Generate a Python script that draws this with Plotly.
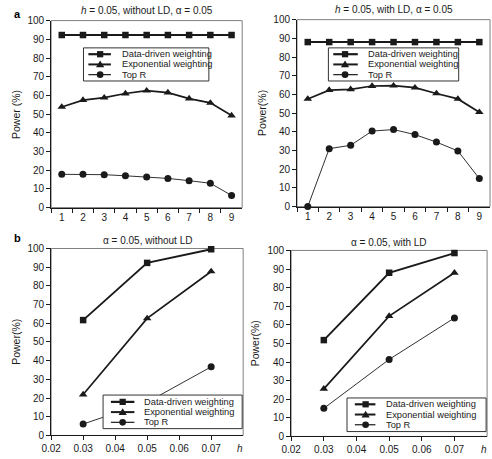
import plotly.graph_objects as go

# ---------------- data ----------------
positions = ["1", "2", "3", "4", "5", "6", "7", "8", "9"]

a_noLD_dd = [92.3, 92.3, 92.3, 92.3, 92.3, 92.3, 92.3, 92.3, 92.3]
a_noLD_exp = [53.8, 57.5, 58.8, 61.0, 62.5, 61.5, 58.3, 56.0, 49.2]
a_noLD_topr = [17.8, 17.8, 17.6, 17.0, 16.4, 15.6, 14.4, 13.0, 6.5]

a_LD_dd = [88.0, 88.0, 88.0, 88.0, 88.0, 88.0, 88.0, 88.0, 88.0]
a_LD_exp = [57.6, 62.3, 62.7, 64.5, 64.7, 63.6, 60.5, 57.6, 50.5]
a_LD_topr = [0.0, 31.0, 32.8, 40.4, 41.2, 38.5, 34.5, 29.8, 15.0]

h_values = [0.03, 0.05, 0.07]
b_noLD_dd = [61.7, 92.3, 99.6]
b_noLD_exp = [21.9, 62.6, 87.7]
b_noLD_topr = [6.1, 17.8, 36.7]
b_LD_dd = [51.8, 88.0, 98.6]
b_LD_exp = [25.6, 64.7, 88.0]
b_LD_topr = [15.1, 41.4, 63.7]

h_ticks = [0.02, 0.03, 0.04, 0.05, 0.06, 0.07]
power_ticks = [0, 10, 20, 30, 40, 50, 60, 70, 80, 90, 100]

series_names = ["Data-driven weighting", "Exponential weighting", "Top R"]

panel_titles = [
    "<i>h</i> = 0.05, without LD, α = 0.05",
    "<i>h</i> = 0.05, with LD, α = 0.05",
    "α = 0.05, without LD",
    "α = 0.05, with LD",
]
ytitles = ["Power (%)", "Power(%)", "Power(%)", "Power(%)"]

# ---------------- styles ----------------
W, H = 492, 459
FONT = "Liberation Sans, Arial, sans-serif"
INK = "#1a1a1a"
styles = [
    dict(symbol="square", size=6.5, width=1.9),
    dict(symbol="triangle-up", size=7.5, width=1.7),
    dict(symbol="circle", size=7, width=0.9),
]

# plot areas in pixels (left, top, width, height)
panels = [
    dict(x0=42, y0=15, w=195, h=192),
    dict(x0=293, y0=14, w=197, h=192),
    dict(x0=42, y0=249, w=196, h=192),
    dict(x0=287, y0=251, w=200, h=191),
]
# legend layout relative to plot area (pixels)
legends = [
    dict(box=(33, 161, 28, 62), rows=(34.5, 45, 55.5), sx=(38, 61), mx=50, tx=70),
    dict(box=(32, 165, 29, 63), rows=(35.5, 46, 56.5), sx=(37, 62), mx=49, tx=70),
    dict(box=(53, 195, 150.5, 185), rows=(157.5, 168, 178.5), sx=(61, 85), mx=73, tx=93),
    dict(box=(57, 199, 151.5, 186), rows=(158, 168.5, 179), sx=(65, 86), mx=76, tx=95),
]

def X(px):
    return px / W

def Y(py):
    return 1 - py / H

fig = go.Figure()

panel_data = [
    (positions, [a_noLD_dd, a_noLD_exp, a_noLD_topr]),
    (positions, [a_LD_dd, a_LD_exp, a_LD_topr]),
    (h_values, [b_noLD_dd, b_noLD_exp, b_noLD_topr]),
    (h_values, [b_LD_dd, b_LD_exp, b_LD_topr]),
]

for i, (xs, ys_list) in enumerate(panel_data):
    suffix = "" if i == 0 else str(i + 1)
    for name, ys, st in zip(series_names, ys_list, styles):
        fig.add_trace(go.Scatter(
            x=xs, y=ys, name=name, mode="lines+markers",
            xaxis="x" + suffix, yaxis="y" + suffix,
            line=dict(color=INK, width=st["width"]),
            marker=dict(symbol=st["symbol"], size=st["size"], color=INK,
                        line=dict(width=0)),
            cliponaxis=False, showlegend=False,
        ))

layout = dict(
    width=W, height=H, autosize=False,
    margin=dict(l=0, r=0, t=0, b=0),
    paper_bgcolor="white", plot_bgcolor="white",
    font=dict(family=FONT, size=10, color=INK),
    showlegend=False,
)

shapes = []
annotations = []

for i, p in enumerate(panels):
    suffix = "" if i == 0 else str(i + 1)
    xd = [X(p["x0"]), X(p["x0"] + p["w"])]
    yd = [Y(p["y0"] + p["h"]), Y(p["y0"])]
    common = dict(showgrid=False, zeroline=False, showline=True,
                  linecolor=INK, linewidth=1, ticks="outside", ticklen=4,
                  tickwidth=1, tickcolor=INK,
                  tickfont=dict(family=FONT, size=10, color=INK))
    if i < 2:
        xa = dict(common, type="category", tickson="boundaries",
                  range=[-0.5, len(positions) - 0.5])
    else:
        xa = dict(common, range=[0.02, 0.08], tickvals=h_ticks,
                  ticktext=["%.2f" % t for t in h_ticks])
    xa.update(domain=xd, anchor="y" + suffix)
    ya = dict(common, range=[0, 100], tickvals=power_ticks, domain=yd,
              anchor="x" + suffix)
    layout["xaxis" + suffix] = xa
    layout["yaxis" + suffix] = ya

    # frame (gray top/right)
    shapes.append(dict(type="rect", xref="paper", yref="paper",
                       x0=xd[0], x1=xd[1], y0=yd[0], y1=yd[1],
                       line=dict(color="#808080", width=1), layer="below"))

    # title
    cx = p["x0"] + p["w"] / 2
    ty = p["y0"] - (10 if i < 2 else 8)
    annotations.append(dict(xref="paper", yref="paper", x=X(cx), y=Y(ty),
                            text=panel_titles[i], showarrow=False,
                            xanchor="center", yanchor="middle",
                            font=dict(family=FONT, size=10, color=INK)))
    # y title
    annotations.append(dict(xref="paper", yref="paper",
                            x=X(p["x0"] - 36), y=Y(p["y0"] + p["h"] / 2),
                            text=ytitles[i], showarrow=False, textangle=-90,
                            xanchor="center", yanchor="middle",
                            font=dict(family=FONT, size=10.5, color=INK)))
    if i >= 2:
        annotations.append(dict(xref="paper", yref="paper",
                                x=X(p["x0"] + p["w"] - 3),
                                y=Y(p["y0"] + p["h"] + 13),
                                text="<i>h</i>", showarrow=False,
                                xanchor="center", yanchor="middle",
                                font=dict(family=FONT, size=10, color=INK)))

    # legend
    lg = legends[i]
    bx0, bx1, by0, by1 = lg["box"]
    ox, oy = p["x0"], p["y0"]
    shapes.append(dict(type="rect", xref="paper", yref="paper",
                       x0=X(ox + bx0), x1=X(ox + bx1),
                       y0=Y(oy + by1), y1=Y(oy + by0),
                       line=dict(color="#333333", width=1),
                       fillcolor="white", layer="above"))
    for name, st, ry in zip(series_names, styles, lg["rows"]):
        cy = oy + ry
        shapes.append(dict(type="line", xref="paper", yref="paper",
                           x0=X(ox + lg["sx"][0]), x1=X(ox + lg["sx"][1]),
                           y0=Y(cy), y1=Y(cy),
                           line=dict(color=INK, width=st["width"] + 0.3)))
        mx = ox + lg["mx"]
        if st["symbol"] == "square":
            r = 3.2
            shapes.append(dict(type="rect", xref="paper", yref="paper",
                               x0=X(mx - r), x1=X(mx + r), y0=Y(cy + r), y1=Y(cy - r),
                               fillcolor=INK, line=dict(width=0)))
        elif st["symbol"] == "circle":
            r = 3.4
            shapes.append(dict(type="circle", xref="paper", yref="paper",
                               x0=X(mx - r), x1=X(mx + r), y0=Y(cy + r), y1=Y(cy - r),
                               fillcolor=INK, line=dict(width=0)))
        else:
            path = "M %f,%f L %f,%f L %f,%f Z" % (
                X(mx - 4.2), Y(cy + 3), X(mx + 4.2), Y(cy + 3), X(mx), Y(cy - 4))
            shapes.append(dict(type="path", xref="paper", yref="paper", path=path,
                               fillcolor=INK, line=dict(width=0)))
        annotations.append(dict(xref="paper", yref="paper",
                                x=X(ox + lg["tx"]), y=Y(cy), text=name,
                                showarrow=False, xanchor="left", yanchor="middle",
                                font=dict(family=FONT, size=9.3, color=INK)))

# panel letters
annotations.append(dict(xref="paper", yref="paper", x=X(2), y=Y(8), text="<b>a</b>",
                        showarrow=False, xanchor="left", yanchor="middle",
                        font=dict(family=FONT, size=11, color="black")))
annotations.append(dict(xref="paper", yref="paper", x=X(2), y=Y(238), text="<b>b</b>",
                        showarrow=False, xanchor="left", yanchor="middle",
                        font=dict(family=FONT, size=11, color="black")))

layout["shapes"] = shapes
layout["annotations"] = annotations
fig.update_layout(**layout)
fig.write_html(
    "out.html",
    config={"displayModeBar": False},
    post_script="document.body.style.margin='0';document.body.style.overflow='hidden';",
)
